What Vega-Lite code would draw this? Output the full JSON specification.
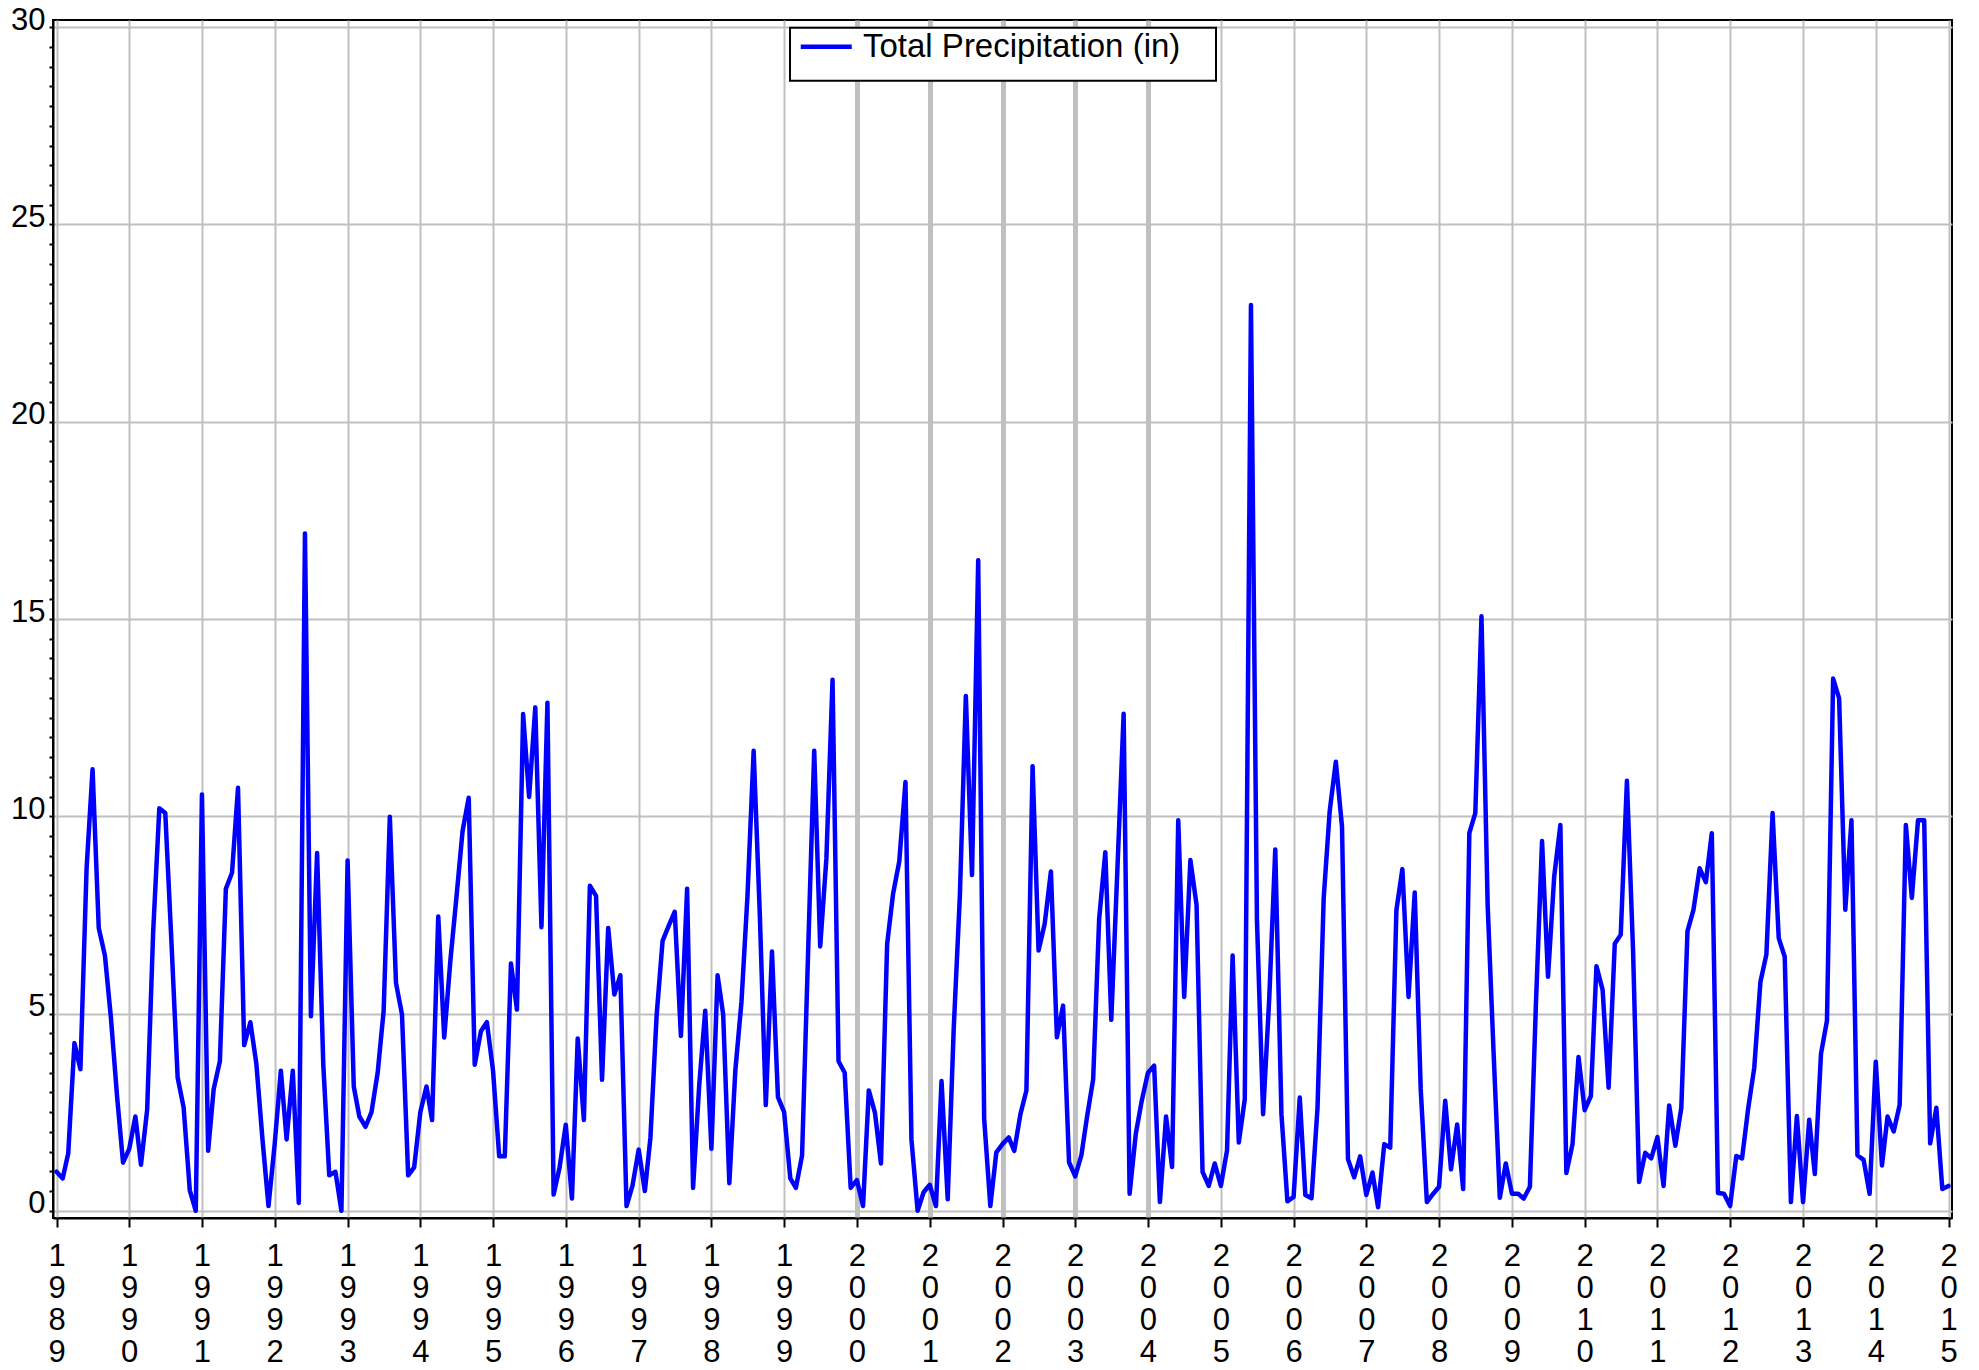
{
  "$schema": "https://vega.github.io/schema/vega-lite/v6.json",
  "width": 1899,
  "height": 1198,
  "autosize": "none",
  "padding": {"left": 53, "top": 20, "right": 27, "bottom": 152},
  "background": "white",
  "config": {
    "font": "Liberation Sans",
    "view": {"stroke": "black", "strokeWidth": 2},
    "legend": {"strokeWidth": 2}
  },
  "data": {"values": [
    {"date":"1989-01-01","precip":0.99},{"date":"1989-02-01","precip":0.82},{"date":"1989-03-01","precip":1.46},{"date":"1989-04-01","precip":4.25},{"date":"1989-05-01","precip":3.59},{"date":"1989-06-01","precip":8.68},{"date":"1989-07-01","precip":11.19},{"date":"1989-08-01","precip":7.17},{"date":"1989-09-01","precip":6.47},{"date":"1989-10-01","precip":4.9},{"date":"1989-11-01","precip":2.9},{"date":"1989-12-01","precip":1.22},
    {"date":"1990-01-01","precip":1.57},{"date":"1990-02-01","precip":2.39},{"date":"1990-03-01","precip":1.17},{"date":"1990-04-01","precip":2.56},{"date":"1990-05-01","precip":7.05},{"date":"1990-06-01","precip":10.2},{"date":"1990-07-01","precip":10.08},{"date":"1990-08-01","precip":6.8},{"date":"1990-09-01","precip":3.38},{"date":"1990-10-01","precip":2.62},{"date":"1990-11-01","precip":0.52},{"date":"1990-12-01","precip":0.0},
    {"date":"1991-01-01","precip":10.55},{"date":"1991-02-01","precip":1.52},{"date":"1991-03-01","precip":3.09},{"date":"1991-04-01","precip":3.79},{"date":"1991-05-01","precip":8.16},{"date":"1991-06-01","precip":8.57},{"date":"1991-07-01","precip":10.72},{"date":"1991-08-01","precip":4.2},{"date":"1991-09-01","precip":4.78},{"date":"1991-10-01","precip":3.73},{"date":"1991-11-01","precip":1.8},{"date":"1991-12-01","precip":0.12},
    {"date":"1992-01-01","precip":1.69},{"date":"1992-02-01","precip":3.55},{"date":"1992-03-01","precip":1.81},{"date":"1992-04-01","precip":3.55},{"date":"1992-05-01","precip":0.2},{"date":"1992-06-01","precip":17.17},{"date":"1992-07-01","precip":4.93},{"date":"1992-08-01","precip":9.07},{"date":"1992-09-01","precip":3.7},{"date":"1992-10-01","precip":0.9},{"date":"1992-11-01","precip":0.99},{"date":"1992-12-01","precip":0.0},
    {"date":"1993-01-01","precip":8.88},{"date":"1993-02-01","precip":3.15},{"date":"1993-03-01","precip":2.39},{"date":"1993-04-01","precip":2.13},{"date":"1993-05-01","precip":2.5},{"date":"1993-06-01","precip":3.5},{"date":"1993-07-01","precip":5.07},{"date":"1993-08-01","precip":9.99},{"date":"1993-09-01","precip":5.77},{"date":"1993-10-01","precip":4.98},{"date":"1993-11-01","precip":0.9},{"date":"1993-12-01","precip":1.1},
    {"date":"1994-01-01","precip":2.5},{"date":"1994-02-01","precip":3.15},{"date":"1994-03-01","precip":2.3},{"date":"1994-04-01","precip":7.46},{"date":"1994-05-01","precip":4.39},{"date":"1994-06-01","precip":6.35},{"date":"1994-07-01","precip":7.93},{"date":"1994-08-01","precip":9.62},{"date":"1994-09-01","precip":10.47},{"date":"1994-10-01","precip":3.7},{"date":"1994-11-01","precip":4.55},{"date":"1994-12-01","precip":4.78},
    {"date":"1995-01-01","precip":3.55},{"date":"1995-02-01","precip":1.38},{"date":"1995-03-01","precip":1.38},{"date":"1995-04-01","precip":6.27},{"date":"1995-05-01","precip":5.1},{"date":"1995-06-01","precip":12.59},{"date":"1995-07-01","precip":10.49},{"date":"1995-08-01","precip":12.76},{"date":"1995-09-01","precip":7.19},{"date":"1995-10-01","precip":12.88},{"date":"1995-11-01","precip":0.41},{"date":"1995-12-01","precip":1.1},
    {"date":"1996-01-01","precip":2.18},{"date":"1996-02-01","precip":0.31},{"date":"1996-03-01","precip":4.37},{"date":"1996-04-01","precip":2.3},{"date":"1996-05-01","precip":8.24},{"date":"1996-06-01","precip":7.98},{"date":"1996-07-01","precip":3.32},{"date":"1996-08-01","precip":7.17},{"date":"1996-09-01","precip":5.48},{"date":"1996-10-01","precip":5.97},{"date":"1996-11-01","precip":0.12},{"date":"1996-12-01","precip":0.64},
    {"date":"1997-01-01","precip":1.55},{"date":"1997-02-01","precip":0.5},{"date":"1997-03-01","precip":1.86},{"date":"1997-04-01","precip":4.95},{"date":"1997-05-01","precip":6.84},{"date":"1997-06-01","precip":7.23},{"date":"1997-07-01","precip":7.58},{"date":"1997-08-01","precip":4.43},{"date":"1997-09-01","precip":8.16},{"date":"1997-10-01","precip":0.58},{"date":"1997-11-01","precip":3.2},{"date":"1997-12-01","precip":5.07},
    {"date":"1998-01-01","precip":1.57},{"date":"1998-02-01","precip":5.97},{"date":"1998-03-01","precip":4.98},{"date":"1998-04-01","precip":0.7},{"date":"1998-05-01","precip":3.55},{"date":"1998-06-01","precip":5.3},{"date":"1998-07-01","precip":7.98},{"date":"1998-08-01","precip":11.66},{"date":"1998-09-01","precip":7.5},{"date":"1998-10-01","precip":2.68},{"date":"1998-11-01","precip":6.57},{"date":"1998-12-01","precip":2.88},
    {"date":"1999-01-01","precip":2.5},{"date":"1999-02-01","precip":0.82},{"date":"1999-03-01","precip":0.58},{"date":"1999-04-01","precip":1.4},{"date":"1999-05-01","precip":6.5},{"date":"1999-06-01","precip":11.66},{"date":"1999-07-01","precip":6.7},{"date":"1999-08-01","precip":8.92},{"date":"1999-09-01","precip":13.46},{"date":"1999-10-01","precip":3.79},{"date":"1999-11-01","precip":3.5},{"date":"1999-12-01","precip":0.58},
    {"date":"2000-01-01","precip":0.78},{"date":"2000-02-01","precip":0.12},{"date":"2000-03-01","precip":3.05},{"date":"2000-04-01","precip":2.48},{"date":"2000-05-01","precip":1.2},{"date":"2000-06-01","precip":6.76},{"date":"2000-07-01","precip":8.04},{"date":"2000-08-01","precip":8.86},{"date":"2000-09-01","precip":10.87},{"date":"2000-10-01","precip":1.81},{"date":"2000-11-01","precip":0.0},{"date":"2000-12-01","precip":0.47},
    {"date":"2001-01-01","precip":0.66},{"date":"2001-02-01","precip":0.12},{"date":"2001-03-01","precip":3.29},{"date":"2001-04-01","precip":0.29},{"date":"2001-05-01","precip":4.6},{"date":"2001-06-01","precip":7.98},{"date":"2001-07-01","precip":13.05},{"date":"2001-08-01","precip":8.51},{"date":"2001-09-01","precip":16.49},{"date":"2001-10-01","precip":2.33},{"date":"2001-11-01","precip":0.12},{"date":"2001-12-01","precip":1.48},
    {"date":"2002-01-01","precip":1.69},{"date":"2002-02-01","precip":1.86},{"date":"2002-03-01","precip":1.52},{"date":"2002-04-01","precip":2.45},{"date":"2002-05-01","precip":3.05},{"date":"2002-06-01","precip":11.27},{"date":"2002-07-01","precip":6.6},{"date":"2002-08-01","precip":7.28},{"date":"2002-09-01","precip":8.6},{"date":"2002-10-01","precip":4.4},{"date":"2002-11-01","precip":5.2},{"date":"2002-12-01","precip":1.23},
    {"date":"2003-01-01","precip":0.87},{"date":"2003-02-01","precip":1.41},{"date":"2003-03-01","precip":2.37},{"date":"2003-04-01","precip":3.33},{"date":"2003-05-01","precip":7.39},{"date":"2003-06-01","precip":9.09},{"date":"2003-07-01","precip":4.84},{"date":"2003-08-01","precip":8.7},{"date":"2003-09-01","precip":12.6},{"date":"2003-10-01","precip":0.43},{"date":"2003-11-01","precip":1.95},{"date":"2003-12-01","precip":2.79},
    {"date":"2004-01-01","precip":3.5},{"date":"2004-02-01","precip":3.68},{"date":"2004-03-01","precip":0.22},{"date":"2004-04-01","precip":2.39},{"date":"2004-05-01","precip":1.11},{"date":"2004-06-01","precip":9.9},{"date":"2004-07-01","precip":5.42},{"date":"2004-08-01","precip":8.89},{"date":"2004-09-01","precip":7.75},{"date":"2004-10-01","precip":0.99},{"date":"2004-11-01","precip":0.63},{"date":"2004-12-01","precip":1.2},
    {"date":"2005-01-01","precip":0.63},{"date":"2005-02-01","precip":1.53},{"date":"2005-03-01","precip":6.47},{"date":"2005-04-01","precip":1.73},{"date":"2005-05-01","precip":2.83},{"date":"2005-06-01","precip":22.96},{"date":"2005-07-01","precip":7.39},{"date":"2005-08-01","precip":2.45},{"date":"2005-09-01","precip":5.41},{"date":"2005-10-01","precip":9.16},{"date":"2005-11-01","precip":2.45},{"date":"2005-12-01","precip":0.24},
    {"date":"2006-01-01","precip":0.35},{"date":"2006-02-01","precip":2.87},{"date":"2006-03-01","precip":0.4},{"date":"2006-04-01","precip":0.32},{"date":"2006-05-01","precip":2.6},{"date":"2006-06-01","precip":7.92},{"date":"2006-07-01","precip":10.12},{"date":"2006-08-01","precip":11.38},{"date":"2006-09-01","precip":9.74},{"date":"2006-10-01","precip":1.31},{"date":"2006-11-01","precip":0.85},{"date":"2006-12-01","precip":1.38},
    {"date":"2007-01-01","precip":0.4},{"date":"2007-02-01","precip":0.97},{"date":"2007-03-01","precip":0.09},{"date":"2007-04-01","precip":1.69},{"date":"2007-05-01","precip":1.6},{"date":"2007-06-01","precip":7.62},{"date":"2007-07-01","precip":8.66},{"date":"2007-08-01","precip":5.42},{"date":"2007-09-01","precip":8.07},{"date":"2007-10-01","precip":3.09},{"date":"2007-11-01","precip":0.22},{"date":"2007-12-01","precip":0.42},
    {"date":"2008-01-01","precip":0.61},{"date":"2008-02-01","precip":2.79},{"date":"2008-03-01","precip":1.05},{"date":"2008-04-01","precip":2.19},{"date":"2008-05-01","precip":0.55},{"date":"2008-06-01","precip":9.57},{"date":"2008-07-01","precip":10.08},{"date":"2008-08-01","precip":15.07},{"date":"2008-09-01","precip":7.75},{"date":"2008-10-01","precip":3.98},{"date":"2008-11-01","precip":0.33},{"date":"2008-12-01","precip":1.2},
    {"date":"2009-01-01","precip":0.43},{"date":"2009-02-01","precip":0.43},{"date":"2009-03-01","precip":0.31},{"date":"2009-04-01","precip":0.61},{"date":"2009-05-01","precip":5.2},{"date":"2009-06-01","precip":9.37},{"date":"2009-07-01","precip":5.93},{"date":"2009-08-01","precip":8.47},{"date":"2009-09-01","precip":9.78},{"date":"2009-10-01","precip":0.96},{"date":"2009-11-01","precip":1.69},{"date":"2009-12-01","precip":3.9},
    {"date":"2010-01-01","precip":2.55},{"date":"2010-02-01","precip":2.91},{"date":"2010-03-01","precip":6.2},{"date":"2010-04-01","precip":5.6},{"date":"2010-05-01","precip":3.12},{"date":"2010-06-01","precip":6.77},{"date":"2010-07-01","precip":7.0},{"date":"2010-08-01","precip":10.9},{"date":"2010-09-01","precip":6.56},{"date":"2010-10-01","precip":0.73},{"date":"2010-11-01","precip":1.47},{"date":"2010-12-01","precip":1.33},
    {"date":"2011-01-01","precip":1.87},{"date":"2011-02-01","precip":0.63},{"date":"2011-03-01","precip":2.67},{"date":"2011-04-01","precip":1.65},{"date":"2011-05-01","precip":2.61},{"date":"2011-06-01","precip":7.09},{"date":"2011-07-01","precip":7.63},{"date":"2011-08-01","precip":8.68},{"date":"2011-09-01","precip":8.33},{"date":"2011-10-01","precip":9.57},{"date":"2011-11-01","precip":0.45},{"date":"2011-12-01","precip":0.43},
    {"date":"2012-01-01","precip":0.12},{"date":"2012-02-01","precip":1.39},{"date":"2012-03-01","precip":1.33},{"date":"2012-04-01","precip":2.61},{"date":"2012-05-01","precip":3.62},{"date":"2012-06-01","precip":5.8},{"date":"2012-07-01","precip":6.5},{"date":"2012-08-01","precip":10.08},{"date":"2012-09-01","precip":6.91},{"date":"2012-10-01","precip":6.44},{"date":"2012-11-01","precip":0.22},{"date":"2012-12-01","precip":2.4},
    {"date":"2013-01-01","precip":0.22},{"date":"2013-02-01","precip":2.31},{"date":"2013-03-01","precip":0.93},{"date":"2013-04-01","precip":3.98},{"date":"2013-05-01","precip":4.82},{"date":"2013-06-01","precip":13.49},{"date":"2013-07-01","precip":12.99},{"date":"2013-08-01","precip":7.63},{"date":"2013-09-01","precip":9.9},{"date":"2013-10-01","precip":1.41},{"date":"2013-11-01","precip":1.29},{"date":"2013-12-01","precip":0.43},
    {"date":"2014-01-01","precip":3.78},{"date":"2014-02-01","precip":1.15},{"date":"2014-03-01","precip":2.39},{"date":"2014-04-01","precip":2.01},{"date":"2014-05-01","precip":2.69},{"date":"2014-06-01","precip":9.78},{"date":"2014-07-01","precip":7.93},{"date":"2014-08-01","precip":9.9},{"date":"2014-09-01","precip":9.9},{"date":"2014-10-01","precip":1.71},{"date":"2014-11-01","precip":2.61},{"date":"2014-12-01","precip":0.55},
    {"date":"2015-01-01","precip":0.63}
  ]},
  "mark": {"type": "line", "strokeWidth": 4.5, "strokeJoin": "round", "strokeCap": "round"},
  "encoding": {
    "x": {
      "field": "date",
      "type": "temporal",
      "scale": {"type": "utc", "nice": false, "padding": 3.5},
      "axis": {
        "title": null,
        "tickCount": {"interval": "year", "step": 1},
        "grid": true,
        "gridColor": "#c0c0c0",
        "gridWidth": {"condition": {"test": "utcyear(datum.value) >= 2000 && utcyear(datum.value) <= 2004", "value": 5}, "value": 2},
        "domainColor": "black",
        "domainWidth": 2,
        "tickColor": "black",
        "tickWidth": 2,
        "tickSize": 9,
        "labelExpr": "split(utcFormat(datum.value, '%Y'), '')",
        "labelFont": "Liberation Sans",
        "labelFontSize": 31,
        "labelLineHeight": 32,
        "labelColor": "black",
        "labelPadding": 14.5,
        "labelBaseline": "top",
        "labelAlign": "center",
        "labelOverlap": false,
        "labelFlush": false,
        "labelBound": false
      }
    },
    "y": {
      "field": "precip",
      "type": "quantitative",
      "scale": {"domain": [0, 30], "nice": false, "padding": 7.2},
      "axis": {
        "title": null,
        "values": [0,0.5,1,1.5,2,2.5,3,3.5,4,4.5,5,5.5,6,6.5,7,7.5,8,8.5,9,9.5,10,10.5,11,11.5,12,12.5,13,13.5,14,14.5,15,15.5,16,16.5,17,17.5,18,18.5,19,19.5,20,20.5,21,21.5,22,22.5,23,23.5,24,24.5,25,25.5,26,26.5,27,27.5,28,28.5,29,29.5,30],
        "grid": true,
        "gridColor": "#c0c0c0",
        "gridWidth": 2,
        "gridOpacity": {"condition": {"test": "datum.value % 5 === 0", "value": 1}, "value": 0},
        "labelExpr": "datum.value % 5 === 0 ? format(datum.value, 'd') : ''",
        "domainColor": "black",
        "domainWidth": 2,
        "tickColor": "black",
        "tickWidth": 2,
        "tickSize": 4,
        "labelFont": "Liberation Sans",
        "labelFontSize": 31,
        "labelColor": "black",
        "labelPadding": 4,
        "labelAlign": "right",
        "labelBaseline": "middle",
        "labelOffset": -7,
        "labelOverlap": false,
        "labelFlush": false,
        "labelBound": false
      }
    },
    "color": {
      "datum": "Total Precipitation (in)",
      "scale": {"range": ["#0000ff"]},
      "legend": {
        "orient": "none",
        "legendX": 737,
        "legendY": 7.7,
        "title": "\u00a0",
        "titleOrient": "bottom",
        "titleFontSize": 10,
        "titlePadding": 4,
        "symbolType": "M-0.58,0H3.0M27.7,0",
        "symbolSize": 812,
        "symbolStrokeWidth": 4.5,
        "symbolStrokeColor": "#0000ff",
        "labelFont": "Liberation Sans",
        "labelFontSize": 33,
        "labelColor": "black",
        "labelOffset": 37.5,
        "labelLimit": 800,
        "padding": 2.5,
        "strokeColor": "black",
        "fillColor": "white"
      }
    }
  }
}
